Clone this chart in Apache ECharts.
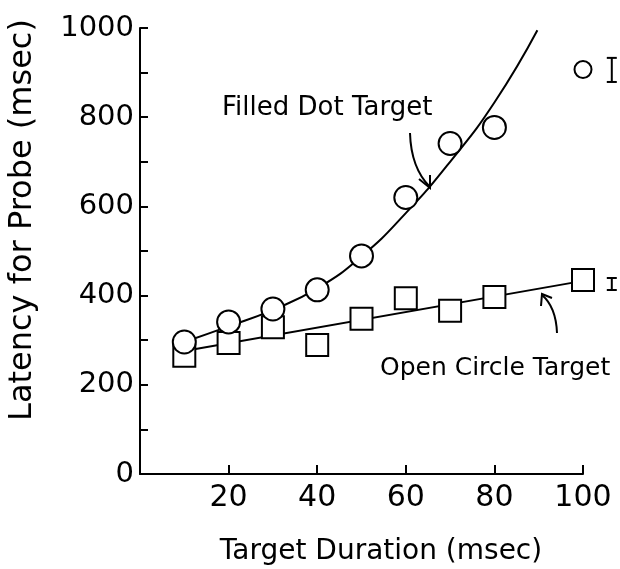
<!DOCTYPE html>
<html>
<head>
<meta charset="utf-8">
<script src="https://cdn.jsdelivr.net/npm/echarts@6/dist/echarts.min.js"></script>
<style>
  html, body { margin: 0; padding: 0; background: #fff; }
  #chart { width: 620px; height: 569px; }
</style>
</head>
<body>
<div id="chart"></div>
<script>
// target duration (msec)
var dotX = [10, 20, 30, 40, 50, 60, 70, 80];
var dotY = [296, 341, 370, 413, 489, 620, 741, 777];
var circleX = [10, 20, 30, 40, 50, 60, 70, 80, 100];
var circleY = [265, 294, 329, 289, 348, 394, 366, 397, 435];
// fitted curves
var dotFitX = [10, 20, 30, 40, 50, 60, 70, 80, 89.7];
var dotFitY = [296, 331, 368, 416, 488, 585, 700, 833, 995];
var circleFitX = [10, 100];
var circleFitY = [276, 433];
// error bar key
var keyX = [100];
var keyY = [907];
var errX = [106.5, 106.5];
var errY = [906, 426];
var errHalf = [27, 13.5];

function pairs(xs, ys) {
  var out = [];
  for (var i = 0; i < xs.length; i++) {
    out.push([xs[i], ys[i]]);
  }
  return out;
}

var errData = [];
for (var i = 0; i < errX.length; i++) {
  errData.push([errX[i], errY[i], errHalf[i]]);
}

var font = 'DejaVu Sans';
var myChart = echarts.init(document.getElementById('chart'));
myChart.setOption({
  animation: false,
  backgroundColor: '#fff',
  grid: { left: 140, right: 37, top: 28, bottom: 95 },
  xAxis: {
    type: 'value',
    min: 0,
    max: 100,
    interval: 20,
    splitLine: { show: false },
    axisLine: { lineStyle: { color: '#000', width: 2 } },
    axisTick: { inside: true, length: 9, lineStyle: { color: '#000', width: 2 } },
    axisLabel: {
      color: '#000',
      fontFamily: font,
      fontSize: 30,
      margin: 9,
      formatter: function (v) { return v === 0 ? '' : v; }
    }
  },
  yAxis: {
    type: 'value',
    min: 0,
    max: 1000,
    interval: 100,
    splitLine: { show: false },
    axisLine: { show: true, lineStyle: { color: '#000', width: 2 } },
    axisTick: { show: true, inside: true, length: 8, lineStyle: { color: '#000', width: 2 } },
    axisLabel: {
      color: '#000',
      fontFamily: font,
      fontSize: 29,
      margin: 6,
      formatter: function (v) { return v % 200 === 0 ? v : ''; }
    }
  },
  graphic: [
    {
      type: 'text', x: 23, y: 220, rotation: Math.PI / 2,
      style: { text: 'Latency for Probe (msec)', fontFamily: font, fontSize: 32,
        fill: '#000', textAlign: 'center', textVerticalAlign: 'middle' }
    },
    {
      type: 'text', x: 381, y: 552,
      style: { text: 'Target Duration (msec)', fontFamily: font, fontSize: 28,
        fill: '#000', textAlign: 'center', textVerticalAlign: 'middle' }
    },
    {
      type: 'text', x: 222, y: 108,
      style: { text: 'Filled Dot Target', fontFamily: font, fontSize: 26,
        fill: '#000', textAlign: 'left', textVerticalAlign: 'middle' }
    },
    {
      type: 'text', x: 380, y: 368,
      style: { text: 'Open Circle Target', fontFamily: font, fontSize: 25,
        fill: '#000', textAlign: 'left', textVerticalAlign: 'middle' }
    },
    // arrow to filled dot curve
    {
      type: 'bezierCurve',
      shape: { x1: 410, y1: 133, cpx1: 411, cpy1: 168, x2: 430, y2: 187 },
      style: { stroke: '#000', lineWidth: 2, fill: null }
    },
    {
      type: 'polyline',
      shape: { points: [[419, 179], [430, 188], [430, 175]] },
      style: { stroke: '#000', lineWidth: 2, fill: null }
    },
    // arrow to open circle line
    {
      type: 'bezierCurve',
      shape: { x1: 557, y1: 333, cpx1: 556, cpy1: 307, x2: 542, y2: 295 },
      style: { stroke: '#000', lineWidth: 2, fill: null }
    },
    {
      type: 'polyline',
      shape: { points: [[541, 306], [542, 294], [552, 298]] },
      style: { stroke: '#000', lineWidth: 2, fill: null }
    }
  ],
  series: [
    {
      name: 'Open Circle fit',
      type: 'line',
      data: pairs(circleFitX, circleFitY),
      symbol: 'none',
      lineStyle: { color: '#000', width: 2 },
      z: 2
    },
    {
      name: 'Filled Dot fit',
      type: 'line',
      data: pairs(dotFitX, dotFitY),
      symbol: 'none',
      smooth: 0.5,
      lineStyle: { color: '#000', width: 2 },
      z: 2
    },
    {
      name: 'Open Circle Target',
      type: 'scatter',
      data: pairs(circleX, circleY),
      symbol: 'rect',
      symbolSize: 22,
      itemStyle: { color: '#fff', borderColor: '#000', borderWidth: 2, opacity: 1 },
      z: 3
    },
    {
      name: 'Filled Dot Target',
      type: 'scatter',
      data: pairs(dotX, dotY),
      symbol: 'circle',
      symbolSize: 23,
      itemStyle: { color: '#fff', borderColor: '#000', borderWidth: 2, opacity: 1 },
      z: 4
    },
    {
      name: 'key',
      type: 'scatter',
      data: pairs(keyX, keyY),
      symbol: 'circle',
      symbolSize: 17,
      itemStyle: { color: '#fff', borderColor: '#000', borderWidth: 2, opacity: 1 },
      z: 4
    },
    {
      name: 'error',
      type: 'custom',
      clip: false,
      data: errData,
      renderItem: function (params, api) {
        var top = api.coord([api.value(0), api.value(1) + api.value(2)]);
        var bot = api.coord([api.value(0), api.value(1) - api.value(2)]);
        var w = 5;
        var st = { stroke: '#000', lineWidth: 2 };
        return {
          type: 'group',
          children: [
            { type: 'line', shape: { x1: top[0], y1: top[1], x2: bot[0], y2: bot[1] }, style: st },
            { type: 'line', shape: { x1: top[0] - w, y1: top[1], x2: top[0] + w, y2: top[1] }, style: st },
            { type: 'line', shape: { x1: bot[0] - w, y1: bot[1], x2: bot[0] + w, y2: bot[1] }, style: st }
          ]
        };
      },
      z: 4
    }
  ]
});
window.addEventListener('resize', function () {
  myChart.resize();
});
</script>
</body>
</html>
